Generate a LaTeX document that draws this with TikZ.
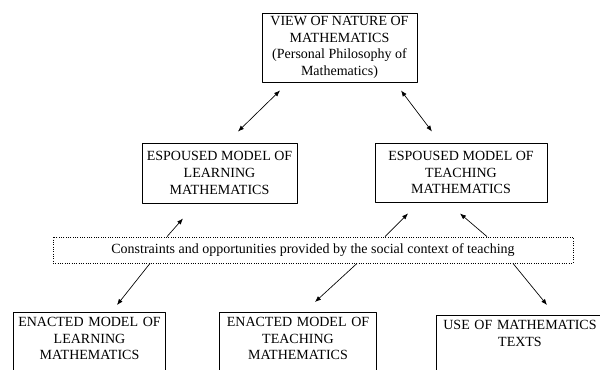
\documentclass[tikz,border=0pt]{standalone}
\usepackage{fontspec}
\setmainfont{Liberation Serif}
\usetikzlibrary{arrows.meta}

\begin{document}
\begin{tikzpicture}[
    x=0.75pt,
    y=-0.75pt,
    line join=round,
    box/.style={draw, line width=0.75pt, align=center, inner sep=2pt,
        font=\fontsize{10.5}{12.5}\selectfont},
    lowbox/.style={box, anchor=north, inner ysep=3.5pt, text depth=45pt},
    link/.style={line width=0.5pt, -{Latex[length=4.5pt,width=3.5pt]}},
    both/.style={link, {Latex[length=4.5pt,width=3.5pt]}-{Latex[length=4.5pt,width=3.5pt]}}
]
    % page frame
    \clip (0,0) rectangle (600,369);

    % top box
    \node[box, minimum width=116.25pt, minimum height=51.75pt] (view) at (339.5,47.5)
        {VIEW OF NATURE OF\\MATHEMATICS\\(Personal Philosophy of\\Mathematics)};

    % espoused models
    \node[box, minimum width=116.25pt, minimum height=45pt] (learn) at (219.5,173)
        {ESPOUSED MODEL OF\\LEARNING\\MATHEMATICS};
    \node[box, minimum width=129pt, minimum height=44.25pt] (teach) at (461,172.5)
        {ESPOUSED MODEL OF\\TEACHING\\MATHEMATICS};

    % social context
    \node[box, densely dotted, line width=0.6pt, minimum width=390pt, minimum height=19.5pt]
        (context) at (313,250)
        {Constraints and opportunities provided by the social context of teaching};

    % enacted models (cut off at the bottom)
    \node[lowbox, text width=110pt] (enlearn) at (89.5,312)
        {ENACTED MODEL OF\\LEARNING\\MATHEMATICS};
    \node[lowbox, text width=114pt] (enteach) at (298,312)
        {ENACTED MODEL OF\\TEACHING\\MATHEMATICS};
    \node[lowbox, text width=121.5pt] (texts) at (520,315)
        {USE OF MATHEMATICS\\TEXTS};

    % arrows
    \draw[both] ([shift={(-59.5,8)}]view.south) -- ([shift={(18.5,-11)}]learn.north);
    \draw[both] ([shift={(61.5,8)}]view.south) -- ([shift={(-29,-11)}]teach.north);

    \draw[link] ([shift={(-146,0)}]context.north) -- ([shift={(-36.5,15)}]learn.south);
    \draw[link] ([shift={(72,0)}]context.north) -- ([shift={(-53,11)}]teach.south);
    \draw[link] ([shift={(174,0)}]context.north) -- ([shift={(-1,11)}]teach.south);

    \draw[link] ([shift={(-163,0)}]context.south) -- ([shift={(27.5,-7)}]enlearn.north);
    \draw[link] ([shift={(44,0)}]context.south) -- ([shift={(17,-10)}]enteach.north);
    \draw[link] ([shift={(200,0)}]context.south) -- ([shift={(27,-10)}]texts.north);

\end{tikzpicture}
\end{document}
